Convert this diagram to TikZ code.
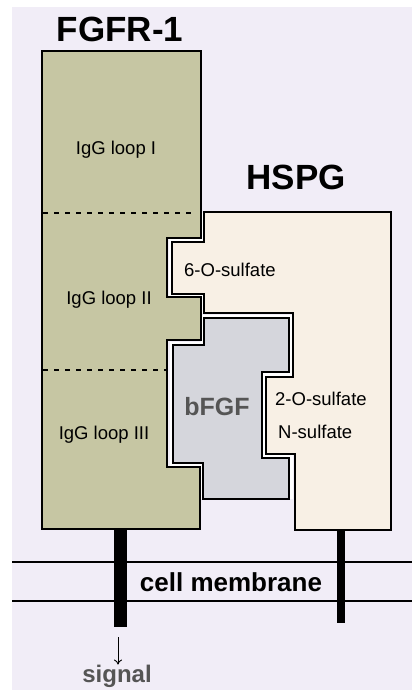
\documentclass[tikz,border=0pt]{standalone}
\usepackage{fontspec}
\setmainfont{Liberation Sans}
\usetikzlibrary{arrows.meta}
\definecolor{bglav}{HTML}{F1EDF7}
\definecolor{olive}{HTML}{C6C6A3}
\definecolor{cream}{HTML}{F8F0E5}
\definecolor{fgfgray}{HTML}{D5D6DC}
\definecolor{darktxt}{HTML}{555555}
\begin{document}
\begin{tikzpicture}[x=1pt, y=-1pt,
    outline/.style={draw=black, line width=1.4pt},
    halo/.style={draw=white, line width=7pt},
    divider/.style={black, line width=1.1pt, dash pattern=on 5pt off 6pt},
    title/.style={font=\bfseries\fontsize{35}{40}\selectfont, inner sep=0pt},
    txt/.style={font=\fontsize{18.5}{22}\selectfont, inner sep=0pt},
    bigtxt/.style={font=\bfseries\fontsize{24}{28}\selectfont, inner sep=0pt},
    stalk/.style={black, line width=#1},
    sigarrow/.style={-{To[length=5pt,width=8pt]}, line width=0.9pt}
]
\useasboundingbox (0,0) rectangle (412,690);
\fill[white] (0,0) rectangle (412,690);
\fill[bglav] (12,7) rectangle (412,690);

% white gaps between the molecules
\draw[halo] (204,213) -- (204,242) -- (172,242) -- (172,294) -- (204,294) -- (204,313);
\draw[halo] (289,499) -- (289,458) -- (262,458) -- (262,372) -- (289,372) -- (289,318)
    -- (204,318) -- (204,345) -- (173,345) -- (173,463) -- (203,463) -- (203,499);

% FGFR-1
\filldraw[outline, fill=olive] (42,51) -- (201,51) -- (201,238) -- (167,238) -- (167,297)
    -- (201,297) -- (201,340) -- (167,340) -- (167,467) -- (200,467) -- (200,529)
    -- (42,529) -- cycle;
\draw[divider] (43,213) -- (195,213);
\draw[divider] (43,370) -- (166,370);

% HSPG
\filldraw[outline, fill=cream] (204,212) -- (391,212) -- (391,530) -- (295,530) -- (295,454)
    -- (266,454) -- (266,377) -- (293,377) -- (293,313) -- (204,313) -- (204,294)
    -- (172,294) -- (172,242) -- (204,242) -- cycle;

% bFGF
\filldraw[outline, fill=fgfgray] (204,318) -- (289,318) -- (289,372) -- (262,372) -- (262,458)
    -- (289,458) -- (289,499) -- (203,499) -- (203,463) -- (173,463) -- (173,345)
    -- (204,345) -- cycle;

% membrane
\draw[line width=1.1pt] (12,562) -- (412,562);
\draw[line width=1.1pt] (12,601) -- (412,601);
\draw[stalk=13pt] (120,529) -- (120,627);
\draw[stalk=8pt] (341,530) -- (341,623);

\node[title] (fgfr) at (120,29) {FGFR-1};
\node[title] (hspg) at (296,177) {HSPG};
\node[txt] (loopi) at (116,150) {IgG loop I};
\node[txt] (loopii) at (109,300) {IgG loop II};
\node[txt] (loopiii) at (104,435) {IgG loop III};
\node[txt, anchor=west] (sixo) at (184,270) {6-O-sulfate};
\node[txt, anchor=west] (twoo) at (275,399) {2-O-sulfate};
\node[txt, anchor=west] (nsulf) at (278,432) {N-sulfate};
\node[bigtxt, text=darktxt, font=\bfseries\fontsize{25}{28}\selectfont] (bfgf) at (217,407) {bFGF};
\node[bigtxt, font=\bfseries\fontsize{26}{30}\selectfont] (membrane) at (231,582) {cell membrane};
\node[bigtxt, text=darktxt] (signal) at (117,676) {signal};

\coordinate (sigtop) at (118,637);
\draw[sigarrow] (sigtop) -- (sigtop |- signal.north);
\end{tikzpicture}
\end{document}
